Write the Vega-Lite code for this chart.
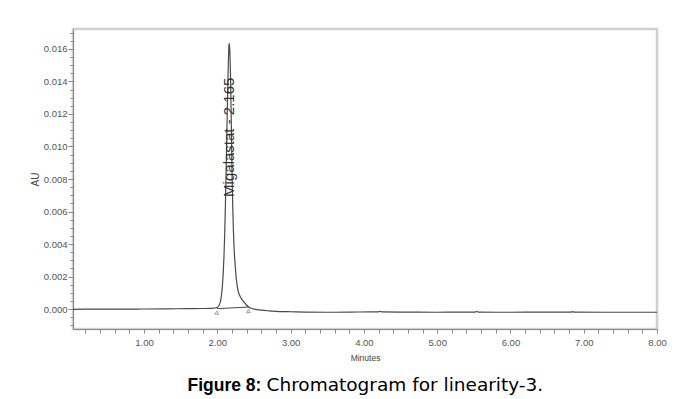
{
  "$schema": "https://vega.github.io/schema/vega-lite/v6.json",
  "width": 584,
  "height": 300,
  "autosize": "none",
  "padding": {"left": 73, "top": 29, "right": 21, "bottom": 70},
  "background": "white",
  "config": {
    "font": "Liberation Sans",
    "view": {"stroke": "#d0d0d0", "strokeWidth": 2.5},
    "axis": {
      "domainColor": "#8a8a8a",
      "tickColor": "#8a8a8a",
      "labelColor": "#555555",
      "labelFont": "Liberation Sans",
      "labelFontSize": 9.5,
      "titleFont": "Liberation Sans",
      "titleFontWeight": "normal",
      "titleColor": "#444444",
      "grid": false
    }
  },
  "datasets": {
    "trace": [
      {"t": 0.03, "v": -0.00002}, {"t": 0.3, "v": -0.00001}, {"t": 0.6, "v": -0.00001},
      {"t": 1.0, "v": 0.0}, {"t": 1.3, "v": 0.00001}, {"t": 1.6, "v": 0.00002},
      {"t": 1.8, "v": 0.00003}, {"t": 1.9, "v": 0.00004}, {"t": 1.95, "v": 0.00006},
      {"t": 1.98, "v": 0.00008}, {"t": 2.0, "v": 0.00011}, {"t": 2.02, "v": 0.0002},
      {"t": 2.04, "v": 0.00042}, {"t": 2.05, "v": 0.00065}, {"t": 2.06, "v": 0.001},
      {"t": 2.07, "v": 0.0015}, {"t": 2.08, "v": 0.0022}, {"t": 2.09, "v": 0.0032},
      {"t": 2.1, "v": 0.0046}, {"t": 2.11, "v": 0.0064}, {"t": 2.12, "v": 0.0086},
      {"t": 2.13, "v": 0.0109}, {"t": 2.14, "v": 0.0132}, {"t": 2.15, "v": 0.0151},
      {"t": 2.158, "v": 0.0162}, {"t": 2.163, "v": 0.01635}, {"t": 2.17, "v": 0.0159},
      {"t": 2.18, "v": 0.0143}, {"t": 2.19, "v": 0.0116}, {"t": 2.2, "v": 0.0085},
      {"t": 2.21, "v": 0.0063}, {"t": 2.22, "v": 0.0047}, {"t": 2.23, "v": 0.0036},
      {"t": 2.24, "v": 0.0029}, {"t": 2.25, "v": 0.0023}, {"t": 2.26, "v": 0.0018},
      {"t": 2.27, "v": 0.00145}, {"t": 2.28, "v": 0.00118}, {"t": 2.29, "v": 0.001},
      {"t": 2.31, "v": 0.00078}, {"t": 2.33, "v": 0.00062}, {"t": 2.36, "v": 0.00045},
      {"t": 2.39, "v": 0.00028}, {"t": 2.42, "v": 0.00014}, {"t": 2.46, "v": 0.00005},
      {"t": 2.52, "v": -0.00002}, {"t": 2.6, "v": -0.00007}, {"t": 2.7, "v": -0.00011},
      {"t": 2.8, "v": -0.00014}, {"t": 2.9, "v": -0.00016}, {"t": 3.0, "v": -0.00017},
      {"t": 3.2, "v": -0.00019}, {"t": 3.5, "v": -0.0002}, {"t": 3.8, "v": -0.00019},
      {"t": 4.1, "v": -0.00018}, {"t": 4.2, "v": -0.00018}, {"t": 4.22, "v": -0.00014},
      {"t": 4.24, "v": -0.00018}, {"t": 4.6, "v": -0.00019}, {"t": 5.0, "v": -0.0002},
      {"t": 5.3, "v": -0.00019}, {"t": 5.52, "v": -0.00019}, {"t": 5.54, "v": -0.00015},
      {"t": 5.56, "v": -0.00019}, {"t": 6.0, "v": -0.0002}, {"t": 6.4, "v": -0.00019},
      {"t": 6.83, "v": -0.00019}, {"t": 6.85, "v": -0.00016}, {"t": 6.87, "v": -0.00019},
      {"t": 7.3, "v": -0.0002}, {"t": 7.7, "v": -0.0002}, {"t": 8.0, "v": -0.0002}
    ],
    "integration": [
      {"t": 1.993, "v": 0.00002},
      {"t": 2.424, "v": 0.00012}
    ],
    "peaks": [
      {"rt": 2.165, "label": "Migalastat - 2.165"}
    ]
  },
  "layer": [
    {
      "data": {"name": "trace"},
      "mark": {"type": "line", "color": "#4a4a4a", "strokeWidth": 1.2, "interpolate": "monotone"},
      "encoding": {
        "x": {
          "field": "t", "type": "quantitative",
          "scale": {"domain": [0.03, 8.0], "nice": false, "zero": false},
          "axis": {
            "title": "Minutes",
            "titleFontSize": 8.5,
            "titlePadding": 7,
            "values": [0.2, 0.4, 0.6, 0.8, 1, 1.2, 1.4, 1.6, 1.8, 2, 2.2, 2.4, 2.6, 2.8, 3, 3.2, 3.4, 3.6, 3.8, 4, 4.2, 4.4, 4.6, 4.8, 5, 5.2, 5.4, 5.6, 5.8, 6, 6.2, 6.4, 6.6, 6.8, 7, 7.2, 7.4, 7.6, 7.8, 8],
            "tickCount": 200,
            "labelExpr": "abs(datum.value - round(datum.value)) < 0.001 ? format(datum.value, '.2f') : ''",
            "labelOverlap": false,
            "labelFlush": false,
            "tickSize": 4,
            "labelPadding": 4
          }
        },
        "y": {
          "field": "v", "type": "quantitative",
          "scale": {"domain": [-0.00123, 0.01723], "nice": false, "zero": false},
          "axis": {
            "orient": "left",
            "title": "AU",
            "titleFontSize": 10,
            "titlePadding": 3,
            "values": [0, 0.002, 0.004, 0.006, 0.008, 0.01, 0.012, 0.014, 0.016],
            "tickCount": 200,
            "format": ".3f",
            "tickSize": 5,
            "labelPadding": 1,
            "labelOverlap": false,
            "labelFlush": false
          }
        }
      }
    },
    {
      "data": {"name": "integration"},
      "mark": {"type": "line", "color": "#4a4a4a", "strokeWidth": 1},
      "encoding": {
        "x": {
          "field": "t", "type": "quantitative",
          "axis": {
            "orient": "top",
            "domain": false,
            "ticks": false,
            "labels": false,
            "title": "Chromatogram for linearity-3.",
            "titleFont": "DejaVu Sans",
            "titleFontSize": 18.5,
            "titleFontWeight": "normal",
            "titleColor": "#000000",
            "titleAngle": 0,
            "titleAlign": "left",
            "titleBaseline": "alphabetic",
            "titleX": 193,
            "titleY": 361
          }
        },
        "y": {
          "field": "v", "type": "quantitative",
          "axis": {
            "orient": "left",
            "title": null,
            "labels": false,
            "domain": false,
            "tickSize": 3,
            "tickCount": 200,
            "values": [-0.001, -0.0005, 0, 0.0005, 0.001, 0.0015, 0.002, 0.0025, 0.003, 0.0035, 0.004, 0.0045, 0.005, 0.0055, 0.006, 0.0065, 0.007, 0.0075, 0.008, 0.0085, 0.009, 0.0095, 0.01, 0.0105, 0.011, 0.0115, 0.012, 0.0125, 0.013, 0.0135, 0.014, 0.0145, 0.015, 0.0155, 0.016, 0.0165, 0.017]
          }
        }
      }
    },
    {
      "data": {"name": "integration"},
      "mark": {"type": "point", "shape": "triangle-up", "size": 14, "filled": false, "color": "#555555", "strokeWidth": 0.8, "yOffset": 4},
      "encoding": {
        "x": {
          "field": "t", "type": "quantitative",
          "axis": {
            "orient": "top",
            "domain": false,
            "ticks": false,
            "labels": false,
            "title": "Figure 8:",
            "titleFont": "Liberation Sans",
            "titleFontSize": 17.5,
            "titleFontWeight": "bold",
            "titleColor": "#000000",
            "titleAngle": 0,
            "titleAlign": "left",
            "titleBaseline": "alphabetic",
            "titleX": 114,
            "titleY": 361
          }
        },
        "y": {"field": "v", "type": "quantitative", "axis": null}
      }
    },
    {
      "data": {"name": "peaks"},
      "mark": {"type": "text", "angle": 270, "align": "left", "baseline": "middle", "fontSize": 15, "color": "#333333", "font": "Liberation Sans"},
      "encoding": {
        "x": {"field": "rt", "type": "quantitative", "axis": null},
        "y": {"datum": 0.0069, "type": "quantitative", "axis": null},
        "text": {"field": "label"}
      }
    }
  ],
  "resolve": {"axis": {"x": "independent", "y": "independent"}}
}
